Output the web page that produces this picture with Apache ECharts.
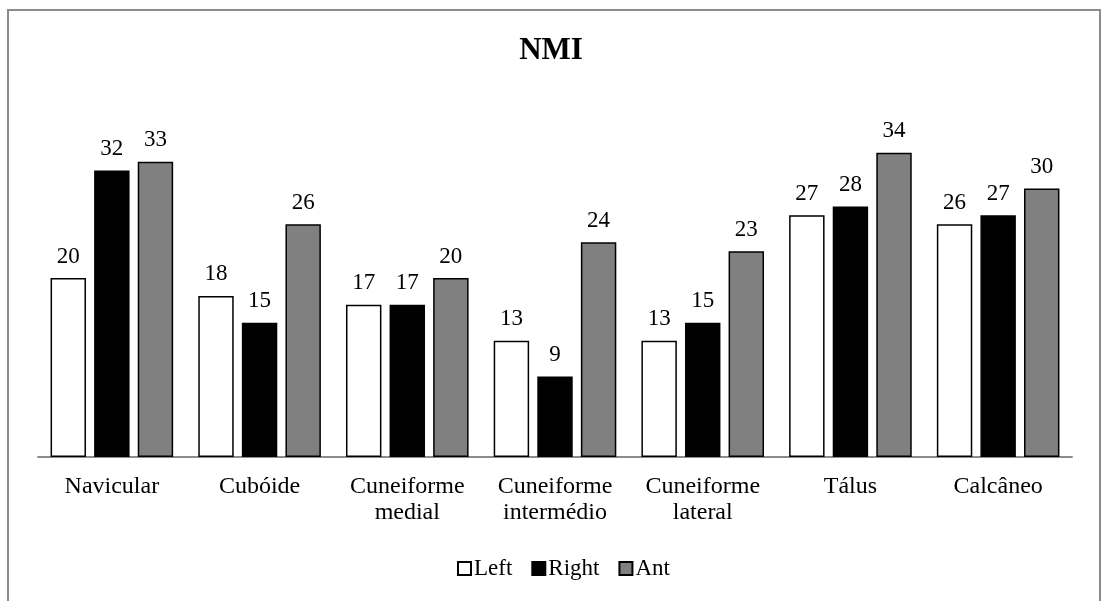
<!DOCTYPE html>
<html>
<head>
<meta charset="utf-8">
<script src="https://cdn.jsdelivr.net/npm/echarts@6/dist/echarts.min.js"></script>
<style>
  html, body { margin: 0; padding: 0; background: #fff; }
  #frame { position: absolute; left: 7px; top: 9px; width: 1094px; height: 620px; border: 2px solid #8c8c8c; box-sizing: border-box; }
  #chart { position: absolute; left: 0; top: 0; width: 1102px; height: 601px; }
</style>
</head>
<body>
<div id="frame"></div>
<div id="chart"></div>
<script>
  // categories and values
  var categories = ['Navicular', 'Cubóide', 'Cuneiforme\nmedial', 'Cuneiforme\nintermédio', 'Cuneiforme\nlateral', 'Tálus', 'Calcâneo'];
  var leftValues = [20, 18, 17, 13, 13, 27, 26];
  var rightValues = [32, 15, 17, 9, 15, 28, 27];
  var antValues = [33, 26, 20, 24, 23, 34, 30];

  var serif = '"Liberation Serif", "DejaVu Serif", serif';

  var myChart = echarts.init(document.getElementById('chart'));

  function barSeries(name, data, fill) {
    return {
      name: name,
      type: 'bar',
      data: data,
      barGap: '23%',
      barCategoryGap: '17%',
      itemStyle: {
        color: fill,
        borderColor: '#000',
        borderWidth: 1.5
      },
      label: {
        show: true,
        position: 'top',
        distance: 10,
        color: '#000',
        fontFamily: serif,
        fontSize: 23
      }
    };
  }

  var option = {
    backgroundColor: 'transparent',
    animation: false,
    title: {
      text: 'NMI',
      left: 'center',
      top: 30,
      textStyle: {
        fontFamily: serif,
        fontWeight: 'bold',
        fontSize: 31,
        color: '#000'
      }
    },
    legend: {
      top: 552,
      left: 452,
      itemWidth: 13,
      itemHeight: 13,
      itemGap: 19,
      icon: 'rect',
      textStyle: {
        fontFamily: serif,
        fontSize: 23,
        color: '#000',
        padding: [0, 0, 0, -2]
      },
      data: ['Left', 'Right', 'Ant']
    },
    grid: {
      left: 38,
      right: 30,
      top: 99,
      bottom: 144
    },
    xAxis: {
      type: 'category',
      data: categories,
      axisTick: { show: false },
      axisLine: {
        show: true,
        lineStyle: { color: '#8c8c8c', width: 2 }
      },
      axisLabel: {
        color: '#000',
        fontFamily: serif,
        fontSize: 24,
        lineHeight: 26,
        margin: 17,
        interval: 0
      }
    },
    yAxis: {
      type: 'value',
      min: 0,
      max: 40,
      show: false,
      splitLine: { show: false }
    },
    series: [
      barSeries('Left', leftValues, '#ffffff'),
      barSeries('Right', rightValues, '#000000'),
      barSeries('Ant', antValues, '#808080')
    ]
  };
  myChart.setOption(option);
</script>
</body>
</html>
